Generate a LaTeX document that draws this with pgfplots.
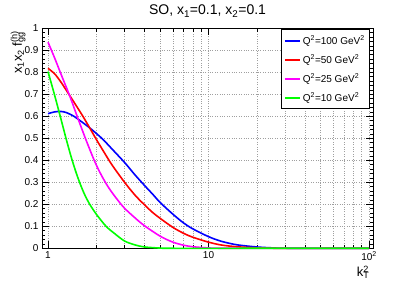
\documentclass[border=0pt]{standalone}
\usepackage{fontspec}
\setmainfont{Liberation Sans}
\usepackage{pgfplots}
\pgfplotsset{compat=1.18}
\begin{document}
\begin{tikzpicture}[x=1pt,y=1pt]
\path[use as bounding box] (-42,-34.7) rectangle (373,248.3);
\begin{axis}[
  at={(0,0)}, anchor=south west,
  scale only axis, width=331pt, height=220pt,
  xmode=log, xmin=0.9175, xmax=105.9, ymin=0, ymax=1,
  xtick={1,10,100}, xticklabels={1,10,10\textsuperscript{2}},
  ytick={0,0.1,0.2,0.3,0.4,0.5,0.6,0.7,0.8,0.9,1},
  yticklabels={0,0.1,0.2,0.3,0.4,0.5,0.6,0.7,0.8,0.9,1},
  minor y tick num=4,
  /pgf/number format/assume math mode=true,
  tick align=inside, xtick pos=both, ytick pos=both,
  major tick length=7pt, minor tick length=3.5pt,
  tick style={black, line width=0.5pt},
  tick label style={font=\fontsize{10}{12}\selectfont},
  major grid style={dash pattern=on 0.8pt off 1.6pt, gray!75, line width=0.5pt},
  minor grid style={dash pattern=on 0.8pt off 1.6pt, gray!75, line width=0.5pt},
  ymajorgrids=true, yminorgrids=false,
  xmajorgrids=true, xminorgrids=true,
  axis line style={black, line width=0.8pt},
  title={SO, x\textsubscript{1}=0.1, x\textsubscript{2}=0.1},
  every axis title/.style={at={(axis description cs:0.5,1)}, anchor=base, yshift=13.3pt, font=\fontsize{14}{16}\selectfont},
  ylabel={x\textsubscript{1}x\textsubscript{2} f\makebox[0pt][l]{\textsuperscript{(h)}}\textsubscript{gg}\hspace{0.08em}},
  ylabel style={at={(axis description cs:-0.061,1)}, anchor=base east, font=\fontsize{13}{15}\selectfont},
  xlabel={k\makebox[0pt][l]{\textsuperscript{2}}\textsubscript{T}},
  xlabel style={at={(axis description cs:1,0)}, anchor=base east, yshift=-28.4pt, font=\fontsize{13}{15}\selectfont},
  legend style={at={(axis description cs:0.991,0.995)}, anchor=north east,
    font=\fontsize{10}{12}\selectfont, draw=black, line width=0.6pt, row sep=5pt,
    inner xsep=3pt, inner ysep=4pt},
  legend cell align=left,
  legend image code/.code={\draw[#1, line width=2pt] (0pt,0pt) -- (15pt,0pt);},
  clip=false,
  every axis plot/.append style={line width=1.6pt, smooth, tension=0.5},
]
\addplot[color={rgb,255:red,0;green,0;blue,255}] coordinates {
(1,0.612) (1.1,0.620) (1.2,0.622) (1.3,0.617) (1.45,0.600) (1.6,0.578) (1.8,0.550)
(2.0,0.522) (2.2,0.495) (2.5,0.452) (3.0,0.390) (3.5,0.332) (4.0,0.285) (4.5,0.245)
(5.0,0.208) (6.0,0.155) (7.0,0.115) (8.0,0.088) (10,0.053) (12,0.032) (15,0.016)
(20,0.006) (25,0.002) (30,0.0005) (40,0) (60,0) (100,0)};
\addlegendentry{Q\textsuperscript{2}=100 GeV\textsuperscript{2}}
\addplot[color={rgb,255:red,255;green,0;blue,0}] coordinates {
(1,0.818) (1.1,0.793) (1.2,0.757) (1.35,0.700) (1.5,0.648) (1.65,0.600) (1.8,0.553)
(2.0,0.495) (2.2,0.445) (2.5,0.380) (3.0,0.300) (3.5,0.240) (4.0,0.197) (4.5,0.162)
(5.0,0.136) (6.0,0.095) (7.0,0.068) (8.0,0.050) (10,0.028) (12,0.015) (15,0.007)
(20,0.002) (25,0.0005) (30,0) (60,0) (100,0)};
\addlegendentry{Q\textsuperscript{2}=50 GeV\textsuperscript{2}}
\addplot[color={rgb,255:red,255;green,0;blue,255}] coordinates {
(1,0.937) (1.1,0.865) (1.2,0.795) (1.37,0.690) (1.53,0.594) (1.72,0.495) (1.92,0.408)
(2.05,0.362) (2.2,0.319) (2.4,0.273) (2.68,0.225) (3.0,0.182) (3.5,0.137) (4.0,0.102)
(5.0,0.055) (6.0,0.028) (7.0,0.014) (8.0,0.007) (10,0.0015) (12,0.0003) (15,0) (40,0) (100,0)};
\addlegendentry{Q\textsuperscript{2}=25 GeV\textsuperscript{2}}
\addplot[color={rgb,255:red,0;green,255;blue,0}] coordinates {
(1,0.803) (1.09,0.706) (1.19,0.602) (1.30,0.495) (1.40,0.411) (1.5,0.342)
(1.6,0.286) (1.7,0.241) (1.82,0.200) (2.0,0.155) (2.3,0.100) (2.6,0.067) (3.0,0.033)
(3.5,0.015) (4.0,0.006) (5,0.001) (6,0) (20,0) (100,0)};
\addlegendentry{Q\textsuperscript{2}=10 GeV\textsuperscript{2}}
\end{axis}
\end{tikzpicture}
\end{document}
